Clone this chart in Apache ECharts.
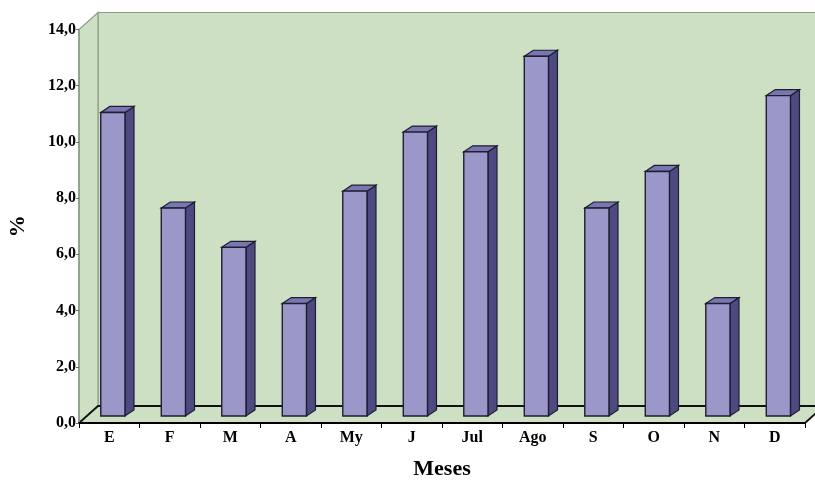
<!DOCTYPE html>
<html>
<head>
<meta charset="utf-8">
<script src="https://cdn.jsdelivr.net/npm/echarts@6/dist/echarts.min.js"></script>
<style>html,body{margin:0;padding:0;background:#fff;}#c{width:815px;height:482px;}</style>
</head>
<body>
<div id="c"></div>
<script>
var categories = ['E','F','M','A','My','J','Jul','Ago','S','O','N','D'];
var values = [10.8, 7.4, 6.0, 4.0, 8.0, 10.1, 9.4, 12.8, 7.4, 8.7, 4.0, 11.4];
var yTicks = {min: 0, max: 14, interval: 2};

var DX = 19, DY = -17;          // wall depth projection
var BASE_DY = -7;               // bar sits mid-depth
var SIDE_DX = 9, SIDE_DY = -6;  // bar depth
var FONT = '"Liberation Serif", "Times New Roman", serif';

var chart = echarts.init(document.getElementById('c'));
var barData = values.map(function (v, i) { return [i, v]; });

chart.setOption({
  animation: false,
  grid: {left: 79, right: 10, top: 29.5, bottom: 59, containLabel: false, outerBoundsMode: 'none'},
  xAxis: {
    type: 'category', data: categories,
    axisLine: {lineStyle: {color: '#000', width: 2}},
    axisTick: {show: true, length: 5, lineStyle: {color: '#000', width: 1}},
    axisLabel: {color: '#000', fontFamily: FONT, fontWeight: 'bold', fontSize: 16, margin: 7},
    name: 'Meses', nameLocation: 'middle', nameGap: 35,
    nameTextStyle: {color: '#000', fontFamily: FONT, fontWeight: 'bold', fontSize: 22},
    z: 5
  },
  yAxis: {
    type: 'value', min: yTicks.min, max: yTicks.max, interval: yTicks.interval,
    axisLine: {show: true, lineStyle: {color: '#8a9a86', width: 1.5}},
    axisTick: {show: true, length: 3, lineStyle: {color: '#666'}},
    splitLine: {show: false},
    axisLabel: {color: '#000', fontFamily: FONT, fontWeight: 'bold', fontSize: 16, margin: 3,
      formatter: function (v) { return v.toFixed(1).replace('.', ','); }},
    name: '%', nameLocation: 'middle', nameGap: 50, nameRotate: 90,
    nameTextStyle: {color: '#000', fontFamily: FONT, fontWeight: 'bold', fontSize: 22},
    z: 5
  },
  series: [
    {
      type: 'custom', z: 1, silent: true,
      data: [[0, 0]],
      renderItem: function (params, api) {
        var cs = params.coordSys;
        var x = cs.x, y = cs.y, w = cs.width, h = cs.height;
        var fill = '#cde0c3';
        return {
          type: 'group',
          children: [
            {type: 'polygon', shape: {points: [[x + DX, y + DY], [x + w + DX + 30, y + DY], [x + w + DX + 30, y + h + DY], [x + DX, y + h + DY]]},
              style: {fill: fill, stroke: '#8e9a8a', lineWidth: 1.2}},
            {type: 'polygon', shape: {points: [[x, y], [x + DX, y + DY], [x + DX, y + h + DY], [x, y + h]]},
              style: {fill: fill, stroke: '#8e9a8a', lineWidth: 1.2}},
            {type: 'polygon', shape: {points: [[x, y + h], [x + w, y + h], [x + w + DX, y + h + DY], [x + DX, y + h + DY]]},
              style: {fill: fill, stroke: null}},
            {type: 'polyline', shape: {points: [[x, y + h], [x + DX, y + h + DY], [x + w + DX + 30, y + h + DY]]},
              style: {fill: null, stroke: '#111', lineWidth: 1.8}},
            {type: 'line', shape: {x1: x + w, y1: y + h, x2: x + w + DX, y2: y + h + DY},
              style: {stroke: '#111', lineWidth: 1.8}}
          ]
        };
      }
    },
    {
      type: 'custom', z: 3,
      data: barData,
      encode: {x: 0, y: 1},
      renderItem: function (params, api) {
        var idx = api.value(0), v = api.value(1);
        var top = api.coord([idx, v]);
        var base = api.coord([idx, 0]);
        var band = api.size([1, 0])[0];
        var fw = band * 0.4;
        var left = top[0] - band * 0.14;
        var ty = top[1] + BASE_DY, by = base[1] + BASE_DY;
        var stroke = '#1e1d33';
        return {
          type: 'group',
          children: [
            {type: 'polygon', shape: {points: [[left + fw, ty], [left + fw + SIDE_DX, ty + SIDE_DY], [left + fw + SIDE_DX, by + SIDE_DY], [left + fw, by]]},
              style: {fill: '#4e4a80', stroke: stroke, lineWidth: 1.2}},
            {type: 'polygon', shape: {points: [[left, ty], [left + SIDE_DX, ty + SIDE_DY], [left + fw + SIDE_DX, ty + SIDE_DY], [left + fw, ty]]},
              style: {fill: '#7a76b0', stroke: stroke, lineWidth: 1.2}},
            {type: 'rect', shape: {x: left, y: ty, width: fw, height: by - ty},
              style: {fill: '#9b97c8', stroke: stroke, lineWidth: 1.4}}
          ]
        };
      }
    }
  ]
});
</script>
</body>
</html>
